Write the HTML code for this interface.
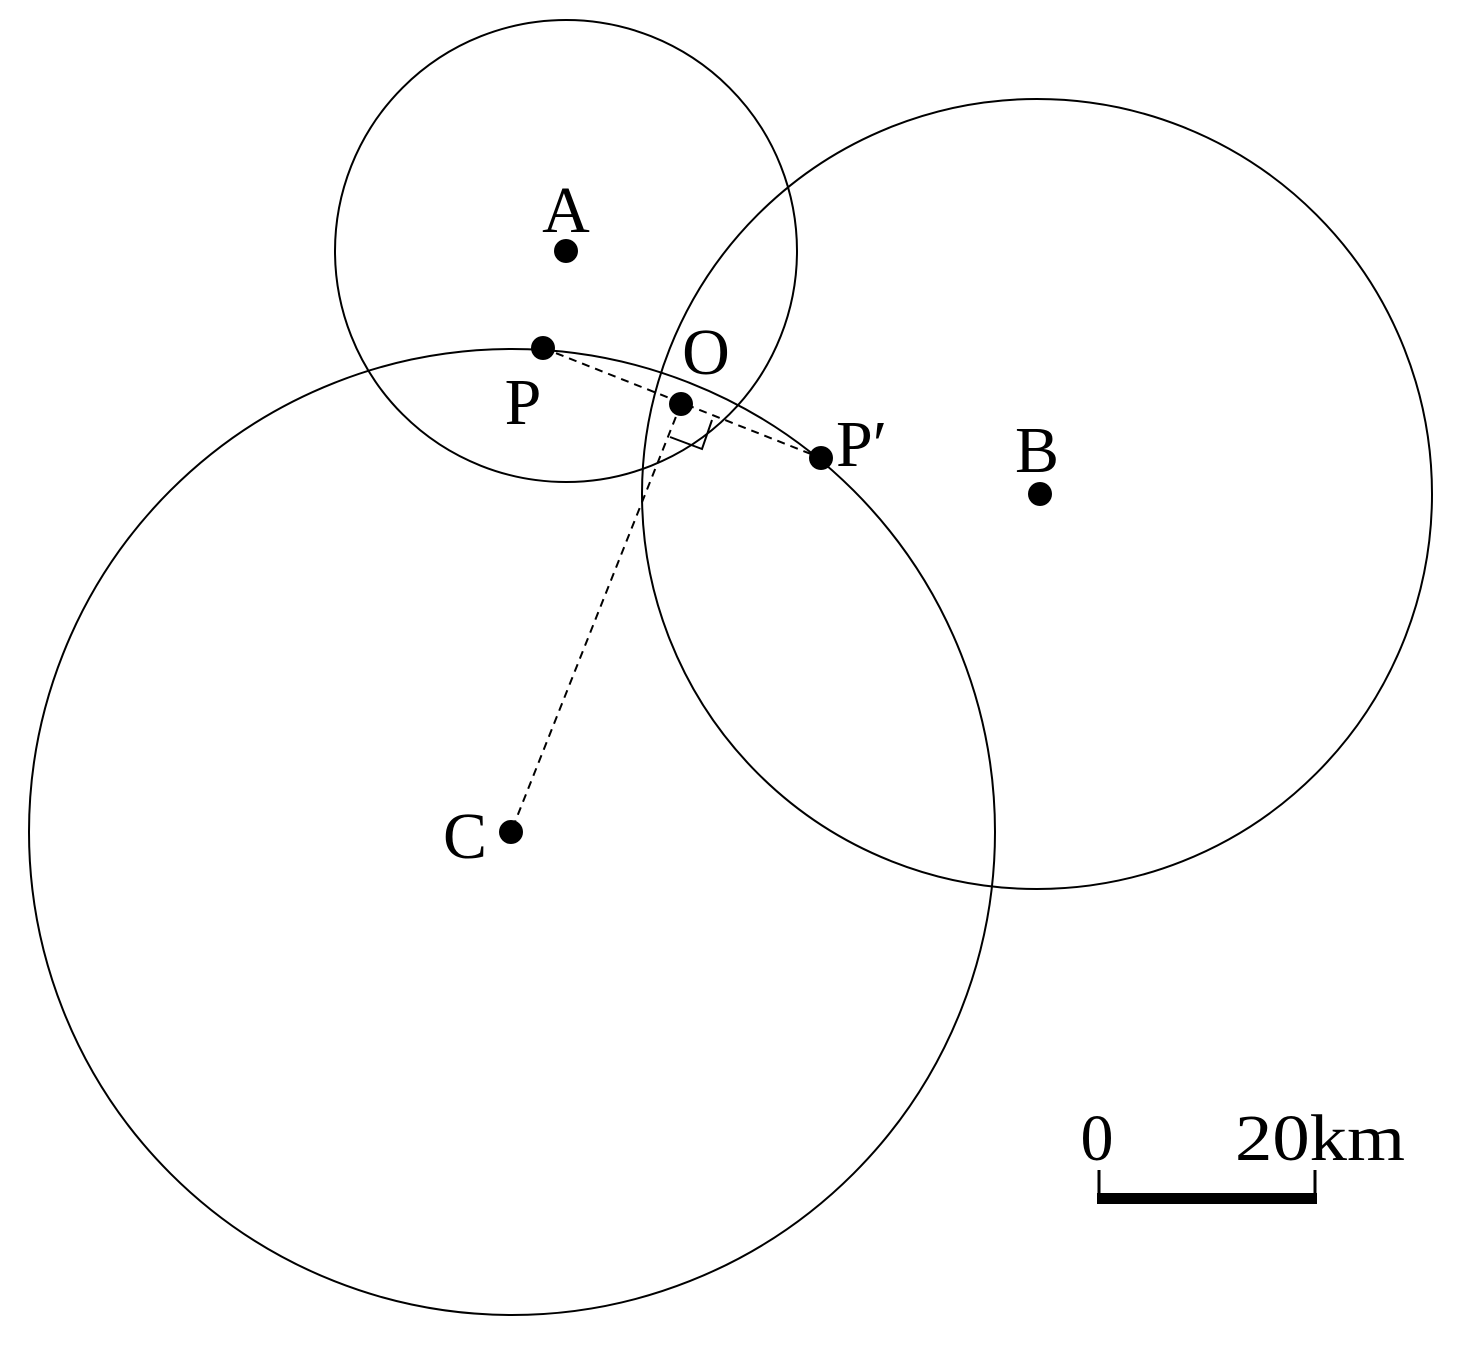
<!DOCTYPE html>
<html><head><meta charset="utf-8"><style>html,body{margin:0;padding:0;background:#fff}</style></head>
<body>
<svg width="1461" height="1345" viewBox="0 0 1461 1345" xmlns="http://www.w3.org/2000/svg">
<g fill="none" stroke="#000" stroke-width="2">
<circle cx="566" cy="251" r="231"/>
<circle cx="1037" cy="494" r="395"/>
<circle cx="512" cy="832" r="483"/>
</g>
<g stroke="#000" stroke-width="2" stroke-dasharray="8,6" fill="none">
<line x1="543" y1="348" x2="821" y2="458"/>
<line x1="681" y1="404" x2="511" y2="832"/>
</g>
<polyline points="670,437 702,449 712,420" fill="none" stroke="#000" stroke-width="2"/>
<g fill="#000">
<circle cx="566" cy="251" r="12"/>
<circle cx="543" cy="348" r="12"/>
<circle cx="681" cy="404" r="12"/>
<circle cx="821" cy="458" r="12"/>
<circle cx="1040" cy="494" r="12"/>
<circle cx="511" cy="832" r="12"/>
</g>
<g font-family="Liberation Serif, serif" font-size="66" fill="#000">
<text x="566" y="232" text-anchor="middle">A</text>
<text x="523" y="424" text-anchor="middle">P</text>
<text x="706" y="374" text-anchor="middle">O</text>
<text x="836" y="466">P′</text>
<text x="1037" y="472" text-anchor="middle">B</text>
<text x="465" y="858" text-anchor="middle">C</text>
<text x="1097" y="1160" text-anchor="middle">0</text>
<text x="1235" y="1160" textLength="170" lengthAdjust="spacingAndGlyphs">20km</text>
</g>
<rect x="1097" y="1193" width="220" height="11" fill="#000"/>
<line x1="1099" y1="1170" x2="1099" y2="1200" stroke="#000" stroke-width="3"/>
<line x1="1315" y1="1170" x2="1315" y2="1200" stroke="#000" stroke-width="3"/>
</svg>
</body></html>
